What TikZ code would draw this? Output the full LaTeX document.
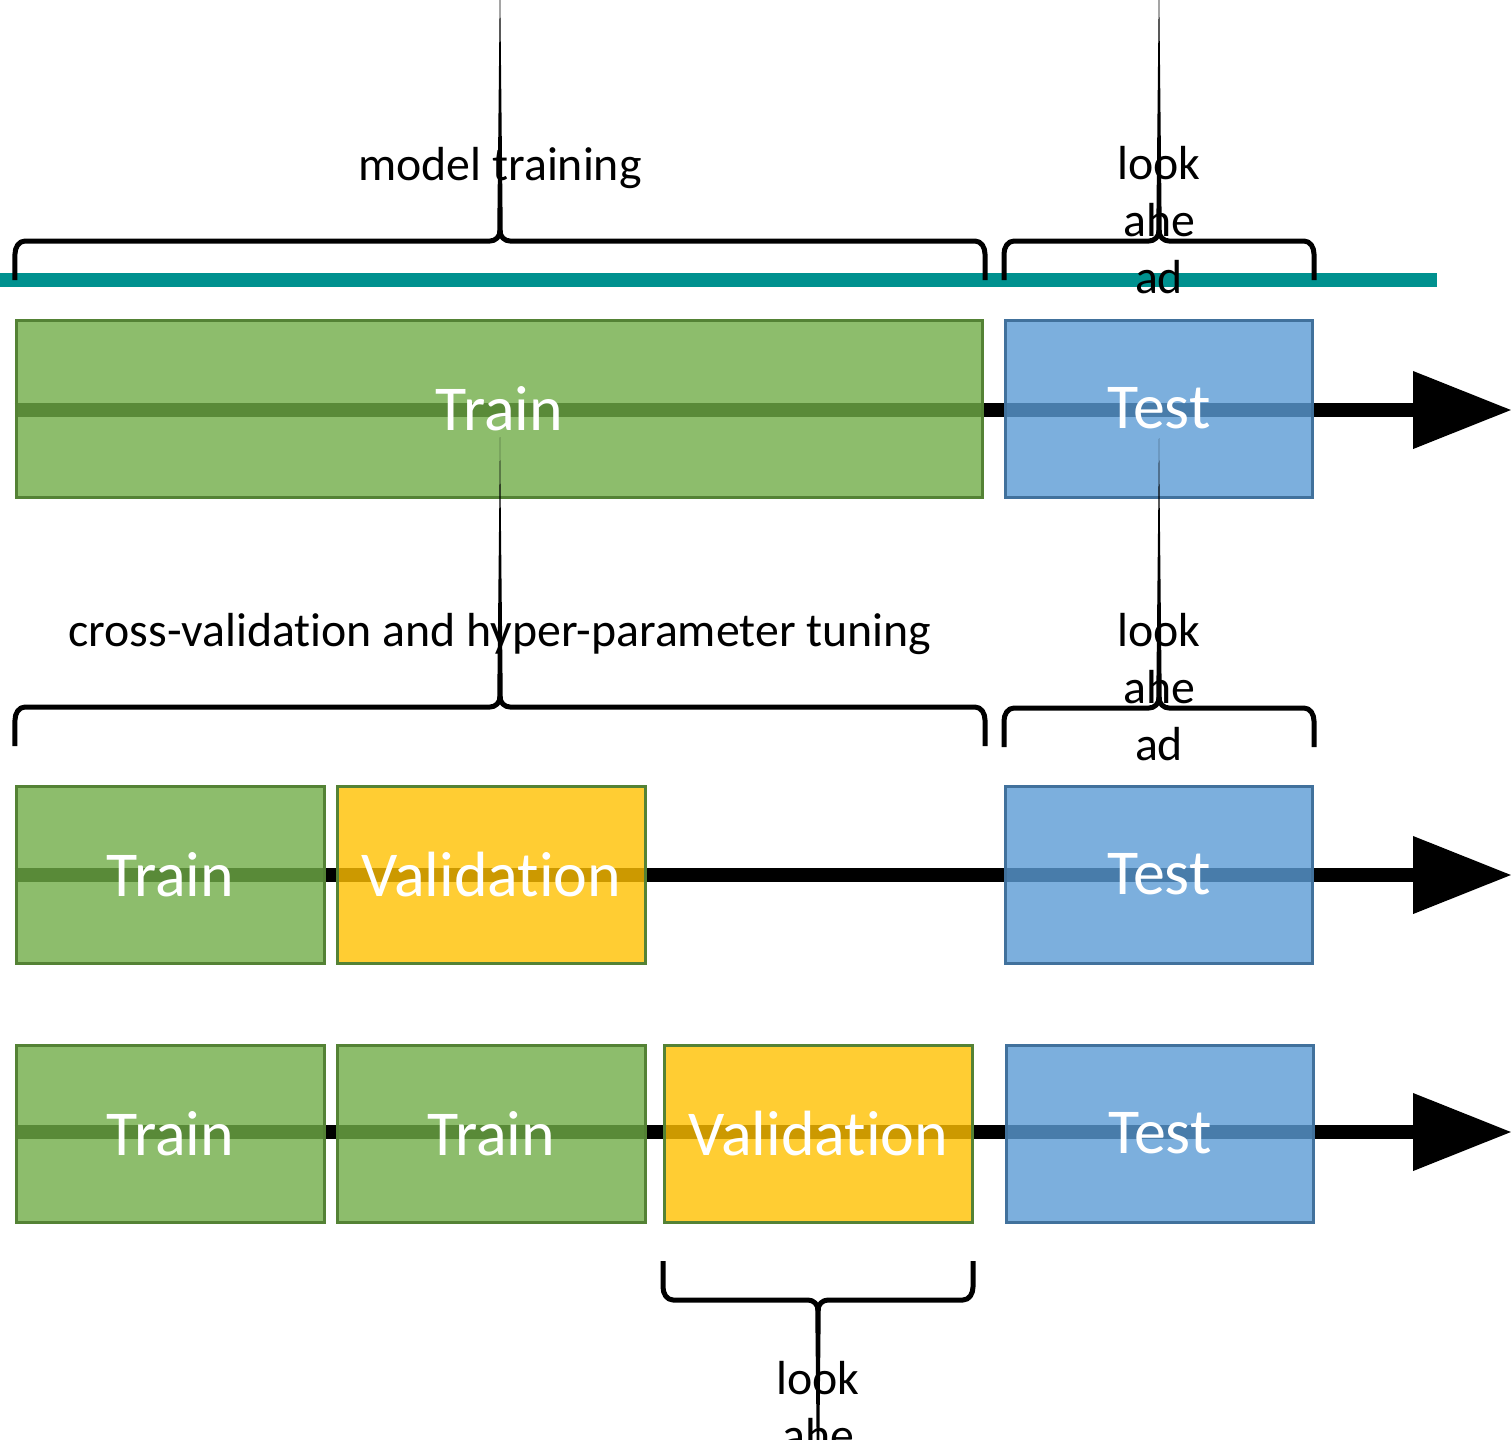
\documentclass[tikz,border=0pt]{standalone}
\usepackage{fontspec}
\setmainfont{Carlito}[Ligatures=NoCommon]
\usetikzlibrary{arrows.meta, positioning}
\definecolor{trainfill}{HTML}{70AD47}
\definecolor{trainline}{HTML}{548235}
\definecolor{valfill}{HTML}{FFC000}
\definecolor{testfill}{HTML}{5B9BD5}
\definecolor{testline}{HTML}{41719C}
\definecolor{teal}{HTML}{00918F}

\begin{document}
\begin{tikzpicture}[
    box/.style={draw, line width=0.03cm, fill opacity=0.8, text opacity=1, text=white,
                minimum height=1.77cm, inner sep=0pt, font=\fontsize{18.2}{22}\selectfont},
    trainbox/.style={box, draw=trainline, fill=trainfill, minimum width=3.08cm},
    valbox/.style={box, draw=trainline, fill=valfill, minimum width=3.08cm},
    testbox/.style={box, draw=testline, fill=testfill, minimum width=3.07cm},
    timeline/.style={-{Triangle[length=0.99cm, width=0.74cm]}, line width=0.14cm},
    brace/.style={line width=0.05cm, line join=round},
    phase/.style={font=\fontsize{13.6}{16.2}\selectfont, align=center, anchor=base, inner sep=0pt}
]
    \useasboundingbox (0,0) rectangle (15.12,-14.40);

    % time axis at the top
    \coordinate (axl) at (0,-2.80);
    \coordinate (axr) at (14.37,-2.80);
    \draw[teal, line width=0.14cm] (axl) -- (axr);

    % timelines
    \coordinate (t1s) at (0.15,-4.10);  \coordinate (t1e) at (15.12,-4.10);
    \coordinate (t2s) at (0.15,-8.75);  \coordinate (t2e) at (15.12,-8.75);
    \coordinate (t3s) at (0.15,-11.32); \coordinate (t3e) at (15.12,-11.32);
    \draw[timeline] (t1s) -- (t1e);
    \draw[timeline] (t2s) -- (t2e);
    \draw[timeline] (t3s) -- (t3e);

    % row 1
    \node[trainbox, minimum width=9.66cm] (tr1) at (4.995,-4.085) {Train};
    \node[testbox, right=0.20cm of tr1] (te1) {Test};

    % row 2
    \node[trainbox] (tr2) at (1.705,-8.745) {Train};
    \node[valbox, right=0.10cm of tr2] (va2) {Validation};
    \node[testbox, right=3.57cm of va2] (te2) {Test};

    % row 3
    \node[trainbox] (tr3) at (1.705,-11.335) {Train};
    \node[trainbox, right=0.10cm of tr3] (tr3b) {Train};
    \node[valbox, right=0.16cm of tr3b] (va3) {Validation};
    \node[testbox, right=0.31cm of va3] (te3) {Test};

    % labels (base = last line)
    \node[phase] (fit) at (5.00,-1.80) {model training};
    \node[phase] (la1) at (11.59,-2.93) {look\\ahe\\ad};
    \node[phase] (cv) at (5.00,-6.46) {cross-validation and hyper-parameter tuning};
    \node[phase] (la2) at (11.59,-7.60) {look\\ahe\\ad};
    \node[phase] (la3) at (8.18,-15.08) {look\\ahe\\ad};

    % braces
    \foreach \xm/\w/\yb/\s in {5.00/4.85/-2.41/1, 11.59/1.55/-2.41/1,
                               5.00/4.85/-7.07/1, 11.59/1.55/-7.08/1,
                               8.18/1.55/-13.00/-1}{
        \begin{scope}[shift={(\xm,\yb)}, yscale=\s]
            \draw[brace] (-\w,-0.39) -- (-\w,-0.13) to[out=90,in=180] (-\w+0.10,0)
                -- (-0.10,0) to[out=0,in=-90] (0,0.10) to[out=-90,in=180] (0.10,0)
                -- (\w-0.10,0) to[out=0,in=90] (\w,-0.13) -- (\w,-0.39);
            \fill (-0.028,0.05) -- (0,2.70) -- (0.028,0.05) -- cycle;
        \end{scope}
    }
\end{tikzpicture}
\end{document}
